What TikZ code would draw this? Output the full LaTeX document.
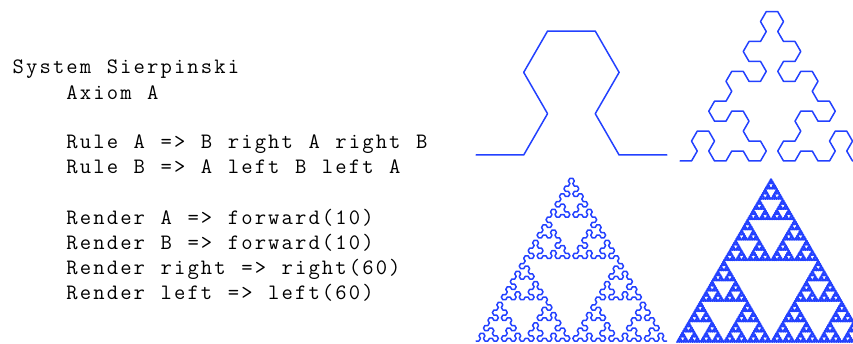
\documentclass[tikz,border=0pt]{standalone}
\usetikzlibrary{lindenmayersystems}
\definecolor{curveblue}{RGB}{35,65,255}
\pgfdeclarelindenmayersystem{arrowhead}{
  \symbol{A}{\pgflsystemdrawforward}
  \symbol{B}{\pgflsystemdrawforward}
  \rule{A -> B-A-B}
  \rule{B -> A+B+A}
}
\makeatletter
\newlength\colw \setlength\colw{13.45pt}
\newcommand\codeline[1]{\@tfor\cl@c:=#1\do{\makebox[\colw][c]{\cl@c}}}
\makeatother
\tikzset{
  code/.style={anchor=base west, inner sep=0pt, font=\fontsize{22}{25}\selectfont\ttfamily},
  curve/.style={draw=curveblue, line width=1.5pt, line join=round, line cap=round}
}
\begin{document}
\begin{tikzpicture}[x=1pt,y=1pt]
\useasboundingbox (0,0) rectangle (853,343);
\clip (0,0) rectangle (853,343);
\node[code] (l1) at (11.4,269) {\codeline{System~Sierpinski}};
\node[code] (l2) at (11.4,243.9) {\codeline{~~~~Axiom~A}};
\node[code] (l3) at (11.4,194.2) {\codeline{~~~~Rule~A~=>~B~right~A~right~B}};
\node[code] (l4) at (11.4,169.1) {\codeline{~~~~Rule~B~=>~A~left~B~left~A}};
\node[code] (l5) at (11.4,118.7) {\codeline{~~~~Render~A~=>~forward(10)}};
\node[code] (l6) at (11.4,93.6) {\codeline{~~~~Render~B~=>~forward(10)}};
\node[code] (l7) at (11.4,68.5) {\codeline{~~~~Render~right~=>~right(60)}};
\node[code] (l8) at (11.4,43.4) {\codeline{~~~~Render~left~=>~left(60)}};
\begin{scope}[shift={(476,188)}]
\draw[curve, lindenmayer system={arrowhead, axiom=A, order=2, step=47.7pt, angle=60}] lindenmayer system;
\end{scope}
\begin{scope}[shift={(680,182)}]
\draw[curve, lindenmayer system={arrowhead, axiom=A, order=4, step=11.5pt, angle=60}] lindenmayer system;
\end{scope}
\begin{scope}[shift={(476,2)}]
\draw[curve, lindenmayer system={arrowhead, axiom=A, order=6, step=2.98pt, angle=60}] lindenmayer system;
\end{scope}
\begin{scope}[shift={(676.7,1)}]
\draw[curve, lindenmayer system={arrowhead, axiom=A, order=8, step=0.737pt, angle=60}] lindenmayer system;
\end{scope}
\end{tikzpicture}
\end{document}
